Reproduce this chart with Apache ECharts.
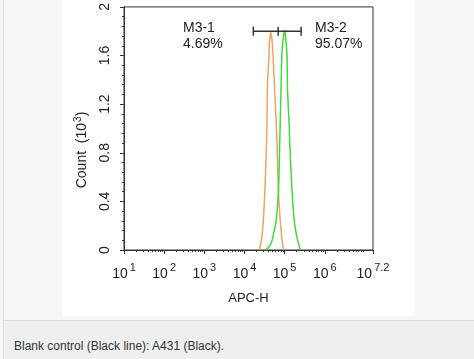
<!DOCTYPE html>
<html>
<head>
<meta charset="utf-8">
<script src="https://cdn.jsdelivr.net/npm/echarts@6/dist/echarts.min.js"></script>
<style>
  html, body { margin: 0; padding: 0; width: 474px; height: 359px; overflow: hidden; background: #f5f6f6; font-family: "Liberation Sans", Arial, sans-serif; }
  #frame { position: absolute; left: 3px; top: 0; width: 471px; height: 359px; border-left: 1px solid #e0e1e1; background: #f5f6f6; }
  #panel { position: absolute; left: 62px; top: 0; width: 353px; height: 316px; background: #ffffff; }
  #caption { position: absolute; left: 3px; top: 320px; width: 471px; height: 39px; background: #eeefef; border-top: 1px solid #dcdddd; border-left: 1px solid #e0e1e1; }
  #caption span { position: absolute; left: 10px; top: 18px; font-size: 12px; color: #333; }
  #chart { position: absolute; left: 0; top: 0; width: 474px; height: 316px; }
</style>
</head>
<body>
<div id="frame"></div>
<div id="panel"></div>
<div id="caption"><span>Blank control (Black line): A431 (Black).</span></div>
<div id="chart"></div>
<script>
// x values are log10(APC-H), y values are Count (10^3)
const xTickValues = [1, 2, 3, 4, 5, 6, 7.2];
const yTickValues = [0, 0.4, 0.8, 1.2, 1.6, 2];

const orangeX = [4.37, 4.43, 4.47, 4.51, 4.54, 4.56, 4.57, 4.61, 4.62, 4.66, 4.69, 4.71, 4.75, 4.79, 4.82, 4.84, 4.89, 4.93, 4.97];
const orangeY = [0.00, 0.10, 0.24, 0.51, 0.78, 1.05, 1.33, 1.60, 1.71, 1.79, 1.71, 1.60, 1.33, 1.05, 0.78, 0.51, 0.24, 0.10, 0.00];

const greenX = [4.52, 4.60, 4.68, 4.72, 4.79, 4.85, 4.87, 4.89, 4.91, 4.93, 4.96, 5.00, 5.03, 5.06, 5.07, 5.11, 5.14, 5.18, 5.24, 5.31, 5.39];
const greenY = [0.00, 0.02, 0.07, 0.13, 0.24, 0.51, 0.78, 1.05, 1.33, 1.60, 1.73, 1.81, 1.73, 1.60, 1.33, 1.05, 0.78, 0.51, 0.24, 0.10, 0.00];

const gateX = [4.22, 4.84, 5.41];
const gateY = 1.80;
const gateLabels = ["M3-1\n4.69%", "M3-2\n95.07%"];

const minorX = [];
for (let n = 1; n <= 7; n++) {
  for (let k = 2; k <= 9; k++) {
    const v = n + Math.log10(k);
    if (v < 7.2) minorX.push(v);
  }
}

const chart = echarts.init(document.getElementById('chart'), null, { renderer: 'canvas' });
const txt = '#222';
const font = 'Liberation Sans';

chart.setOption({
  backgroundColor: 'transparent',
  animation: false,
  grid: { left: 124, top: 4, width: 249, height: 246, show: true, borderColor: '#333', borderWidth: 1, backgroundColor: 'transparent' },
  xAxis: [{
    type: 'value', min: 1, max: 7.2,
    axisLine: { show: true, lineStyle: { color: '#333', width: 1 } },
    splitLine: { show: false },
    axisTick: { show: true, customValues: xTickValues, length: 4, lineStyle: { color: '#333' } },
    axisLabel: {
      customValues: xTickValues, margin: 12, color: txt, fontFamily: font,
      formatter: v => '{b|10}{s|' + v + '}',
      rich: {
        b: { fontSize: 14, fontFamily: font, color: txt, verticalAlign: 'bottom' },
        s: { fontSize: 11, fontFamily: font, color: txt, verticalAlign: 'bottom', padding: [0, 0, 8, 2] }
      }
    },
    name: 'APC-H', nameLocation: 'middle', nameGap: 42,
    nameTextStyle: { fontSize: 13, color: txt, fontFamily: font }
  }, {
    type: 'value', min: 1, max: 7.2, position: 'bottom',
    axisLine: { show: false }, splitLine: { show: false }, axisLabel: { show: false },
    axisTick: { show: true, customValues: minorX, length: 2, lineStyle: { color: '#333' } }
  }],
  yAxis: {
    type: 'value', min: 0, max: 2, interval: 0.4,
    axisLine: { show: true, lineStyle: { color: '#333', width: 1 } },
    splitLine: { show: false },
    axisTick: { show: true, length: 4, lineStyle: { color: '#333' } },
    minorTick: { show: true, splitNumber: 5, length: 2, lineStyle: { color: '#333' } },
    axisLabel: {
      rotate: 90, margin: 12, fontSize: 14, color: txt, fontFamily: font,
      formatter: v => { const s = yTickValues.find(t => Math.abs(t - v) < 1e-9); return s === undefined ? '' : String(s); }
    }
  },
  series: [{
    type: 'line', xAxisIndex: 0, data: orangeX.map((x, i) => [x, orangeY[i]]),
    showSymbol: false, smooth: 0.2, lineStyle: { color: '#f4a262', width: 1.5 }, z: 2
  }, {
    type: 'line', xAxisIndex: 0, data: greenX.map((x, i) => [x, greenY[i]]),
    showSymbol: false, smooth: 0.2, lineStyle: { color: '#3fdc3a', width: 1.5 }, z: 3
  }, {
    type: 'line', xAxisIndex: 0, data: gateX.map(x => [x, gateY]),
    symbol: 'rect', symbolSize: [1.5, 9], showSymbol: true,
    itemStyle: { color: '#333' }, lineStyle: { color: '#333', width: 1.5 }, z: 4
  }],
  graphic: [
    { type: 'text', left: 183, top: 20, style: { text: gateLabels[0], font: '14px "Liberation Sans"', fill: txt, lineHeight: 16 } },
    { type: 'text', left: 315, top: 20, style: { text: gateLabels[1], font: '14px "Liberation Sans"', fill: txt, lineHeight: 16 } },
    { type: 'text', x: 82, y: 150, rotation: Math.PI / 2,
      style: { text: 'Count  (10{s|3})', fontSize: 14, fontFamily: font, fill: txt, align: 'center', verticalAlign: 'middle',
        rich: { s: { fontSize: 10, fontFamily: font, fill: txt, verticalAlign: 'bottom', padding: [0, 0, 7, 1] } } } }
  ]
});
</script>
</body>
</html>
